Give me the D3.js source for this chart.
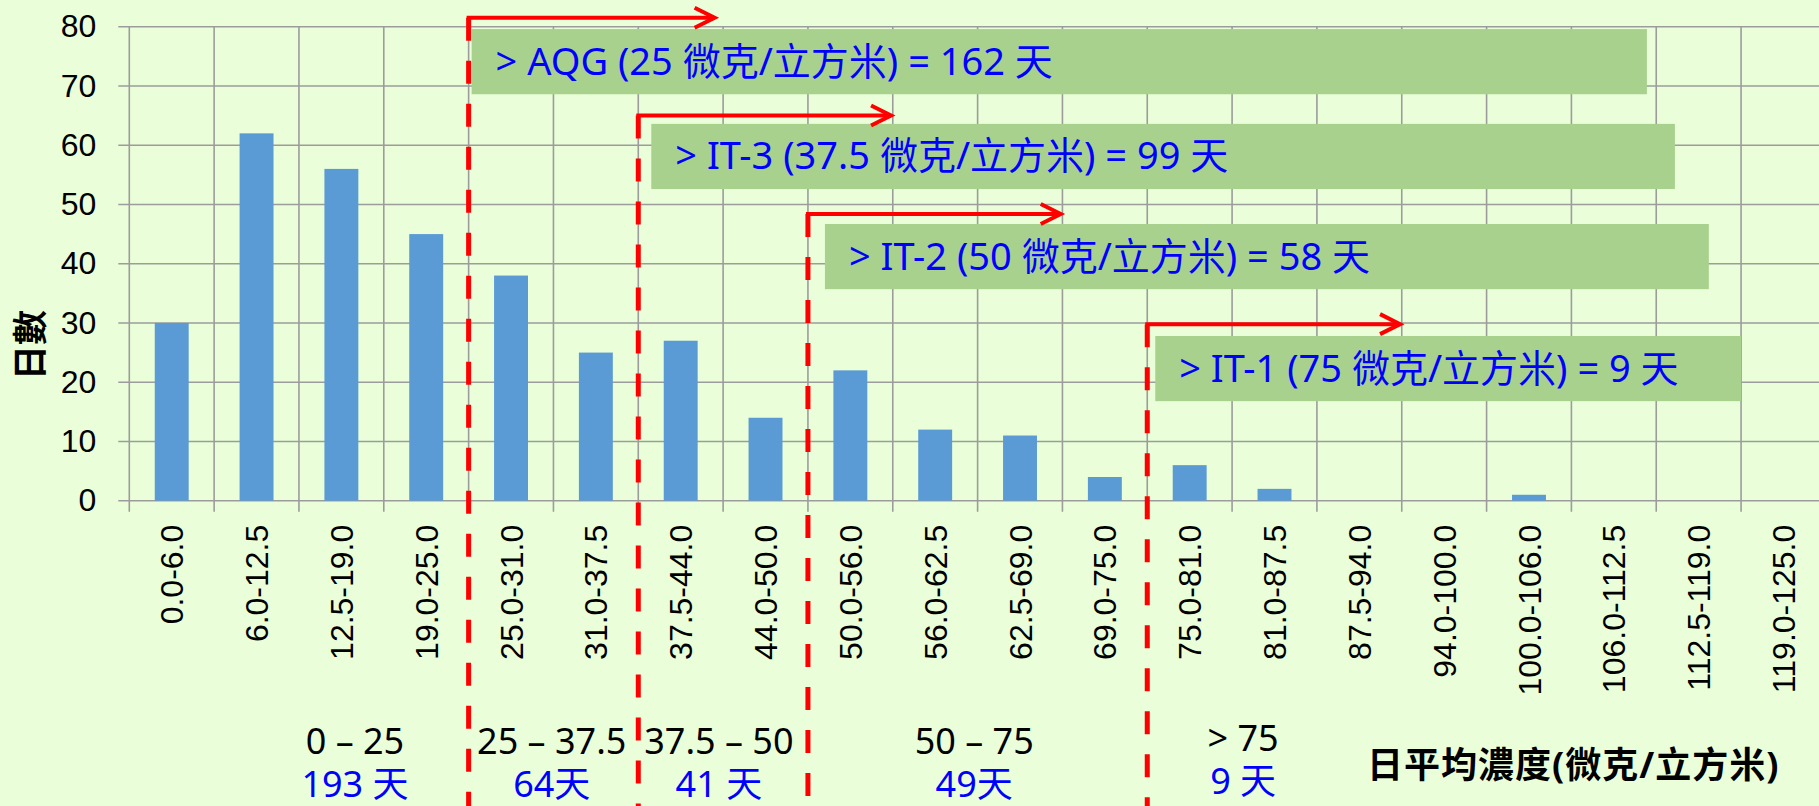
<!DOCTYPE html>
<html>
<head>
<meta charset="utf-8">
<script src="https://cdn.jsdelivr.net/npm/d3@7"></script>
<style>
  html, body { margin: 0; padding: 0; background: #eaffd9; overflow: hidden; }
  svg { display: block; font-family: "Noto Sans", "Noto Sans CJK TC", sans-serif; }
</style>
</head>
<body>
<script>
// PM2.5 daily mean concentration bins and number of days in each
const categories = ["0.0-6.0","6.0-12.5","12.5-19.0","19.0-25.0","25.0-31.0","31.0-37.5",
  "37.5-44.0","44.0-50.0","50.0-56.0","56.0-62.5","62.5-69.0","69.0-75.0","75.0-81.0",
  "81.0-87.5","87.5-94.0","94.0-100.0","100.0-106.0","106.0-112.5","112.5-119.0","119.0-125.0"];
const days = [30,62,56,45,38,25,27,14,22,12,11,4,6,2,0,0,1,0,0,0];
const yTicks = [0,10,20,30,40,50,60,70,80];

// guideline thresholds: index of the bin edge they sit on, and their captions
const guideEdges = [4,6,8,12];
const guideText = ["> AQG (25 微克/立方米) = 162 天",
                   "> IT-3 (37.5 微克/立方米) = 99 天",
                   "> IT-2 (50 微克/立方米) = 58 天",
                   "> IT-1 (75 微克/立方米) = 9 天"];

// range summary under the axis
const rangeNames = ["0 – 25","25 – 37.5","37.5 – 50","50 – 75","> 75"];
const rangeDays = ["193 天","64天","41 天","49天","9 天"];

const yTitle = "日數";
const xTitle = "日平均濃度(微克/立方米)";

// ---- layout (kept apart from the data) ----
const W = 1819, H = 806;
const X0 = 129.3, X1 = 1825.9, Y0 = 500.7, Y1 = 26.7;
const arrowAt = [81.5, 65, 48.4, 29.8];          // arrow height, in y units
const arrowLen = [2.9, 2.98, 2.98, 2.98];         // in bin units
const boxTop = [79.6, 63.6, 46.7, 27.8];          // caption boxes, in y units
const boxH = 11;
const boxLeftPad = [3, 13, 17, 8];                // px right of the dashed line
const boxRight = [17.89, 18.22, 18.62, 19.0];     // in bin units
const rangeCenter = [2.66, 4.98, 6.95, 9.96, 13.13]; // in bin units

const svg = d3.select("body").append("svg")
  .attr("width", W).attr("height", H);

const x = d3.scaleBand().domain(categories).range([X0, X1])
  .paddingInner(0.6).paddingOuter(0.3);
const xe = d3.scaleLinear().domain([0, categories.length]).range([X0, X1]);
const y = d3.scaleLinear().domain([0, 80]).range([Y0, Y1]);

const gridColor = "#9c9c9c";

// horizontal grid
svg.append("g").selectAll("line").data(yTicks).join("line")
  .attr("x1", X0 - 11).attr("x2", W)
  .attr("y1", d => y(d)).attr("y2", d => y(d))
  .attr("stroke", gridColor).attr("stroke-width", 1.6);

// vertical grid (bin edges)
svg.append("g").selectAll("line").data(d3.range(categories.length + 1)).join("line")
  .attr("x1", d => xe(d)).attr("x2", d => xe(d))
  .attr("y1", Y1).attr("y2", Y0 + 11)
  .attr("stroke", gridColor).attr("stroke-width", 1.6);

// y axis labels
const yAxis = svg.append("g").attr("transform", `translate(${X0},0)`)
  .call(d3.axisLeft(y).tickValues(yTicks).tickSize(11).tickPadding(22));
yAxis.select(".domain").remove();
yAxis.selectAll("line").remove();
yAxis.selectAll("text").attr("font-size", 32).attr("fill", "#000")
  .attr("font-family", null);

// x axis labels (rotated)
const xAxis = svg.append("g").attr("transform", `translate(0,${Y0})`)
  .call(d3.axisBottom(x).tickSize(0));
xAxis.select(".domain").remove();
xAxis.selectAll("text")
  .attr("font-size", 32).attr("fill", "#000").attr("font-family", null)
  .attr("text-anchor", "end")
  .attr("transform", "rotate(-90)")
  .attr("x", -24).attr("y", 0).attr("dy", "0.36em");

// bars
svg.append("g").selectAll("rect").data(days).join("rect")
  .attr("x", (d, i) => x(categories[i]))
  .attr("width", x.bandwidth())
  .attr("y", d => y(d))
  .attr("height", d => y(0) - y(d))
  .attr("fill", "#5b9bd5");

// caption boxes
const guides = guideText.map((t, i) => ({
  text: t,
  lx: xe(guideEdges[i]),
  tip: xe(guideEdges[i] + arrowLen[i]),
  ay: y(arrowAt[i]),
  bx: xe(guideEdges[i]) + boxLeftPad[i],
  bx2: xe(boxRight[i]),
  by: y(boxTop[i]),
  bh: y(0) - y(boxH)
}));

const gBox = svg.append("g");
gBox.selectAll("rect").data(guides).join("rect")
  .attr("x", d => d.bx).attr("y", d => d.by)
  .attr("width", d => d.bx2 - d.bx).attr("height", d => d.bh)
  .attr("fill", "#a9d18e");
gBox.selectAll("text").data(guides).join("text")
  .attr("x", d => d.bx + 24)
  .attr("y", d => d.by + d.bh / 2 + 13)
  .attr("font-size", 38).attr("fill", "#0000ff")
  .text(d => d.text);

// dashed threshold lines and arrows
const gArrow = svg.append("g").attr("fill", "none").attr("stroke", "#ff0000");
gArrow.selectAll("line.dash").data(guides).join("line")
  .attr("class", "dash")
  .attr("x1", d => d.lx).attr("x2", d => d.lx)
  .attr("y1", d => d.ay).attr("y2", H)
  .attr("stroke-width", 5).attr("stroke-dasharray", "23,20");
gArrow.selectAll("line.shaft").data(guides).join("line")
  .attr("class", "shaft")
  .attr("x1", d => d.lx - 2).attr("x2", d => d.tip - 2)
  .attr("y1", d => d.ay).attr("y2", d => d.ay)
  .attr("stroke-width", 4);
gArrow.selectAll("path").data(guides).join("path")
  .attr("d", d => `M${d.tip - 20},${d.ay - 10}L${d.tip},${d.ay}L${d.tip - 20},${d.ay + 10}`)
  .attr("stroke-width", 4);

// range summary
const gRange = svg.append("g").attr("text-anchor", "middle");
gRange.selectAll("text.name").data(rangeNames).join("text")
  .attr("class", "name")
  .attr("x", (d, i) => xe(rangeCenter[i]))
  .attr("y", (d, i) => i === 4 ? 751 : 754)
  .attr("font-size", 36).attr("fill", "#000")
  .text(d => d);
gRange.selectAll("text.days").data(rangeDays).join("text")
  .attr("class", "days")
  .attr("x", (d, i) => xe(rangeCenter[i]))
  .attr("y", (d, i) => i === 4 ? 794 : 797)
  .attr("font-size", 36).attr("fill", "#0000ff")
  .text(d => d);

// axis titles
svg.append("text")
  .attr("transform", "translate(30,345) rotate(-90)")
  .attr("text-anchor", "middle").attr("dy", "0.36em")
  .attr("font-size", 35).attr("font-weight", "bold").attr("fill", "#000")
  .text(yTitle);

svg.append("text")
  .attr("x", 1367).attr("y", 778)
  .attr("font-size", 36).attr("font-weight", "bold").attr("fill", "#000")
  .attr("letter-spacing", 1)
  .text(xTitle);
</script>
</body>
</html>
